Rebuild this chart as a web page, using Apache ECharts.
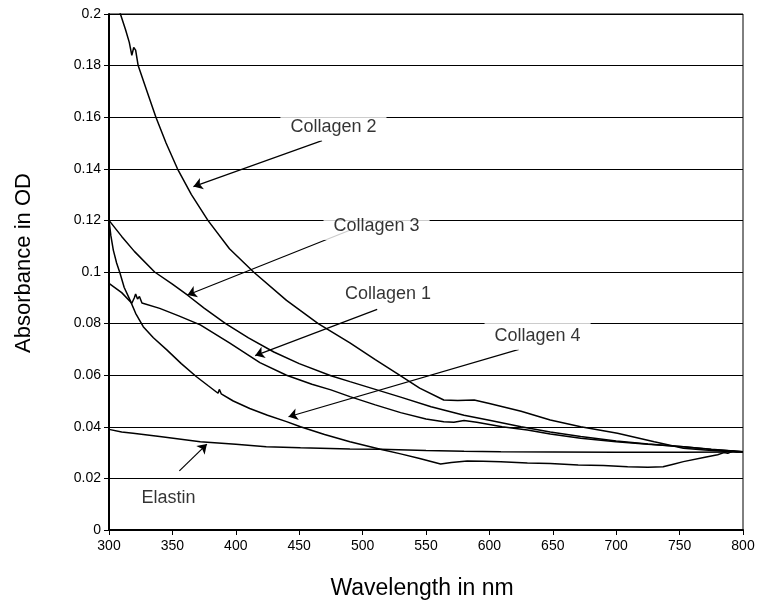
<!DOCTYPE html>
<html>
<head>
<meta charset="utf-8">
<script src="https://cdn.jsdelivr.net/npm/echarts@6/dist/echarts.min.js"></script>
<style>html,body{margin:0;padding:0;background:#fff;}#c{width:758px;height:600px;}</style>
</head>
<body>
<div id="c"></div>
<script>
// ---- Data (wavelength nm, absorbance OD) ----
const collagen2 = [[300,0.214],[305,0.206],[309,0.200],[313,0.194],[316,0.189],[318,0.184],[319.5,0.187],[321,0.186],[323,0.180],[330,0.170],[337,0.160],[345,0.150],[354,0.140],[365,0.130],[378,0.120],[395,0.109],[414,0.100],[440,0.089],[465,0.080],[490,0.0725],[510,0.066],[527,0.0607],[545,0.055],[564,0.0504],[575,0.0502],[588,0.0504],[600,0.049],[625,0.046],[648,0.0426],[672,0.0400],[701,0.0375],[730,0.0342],[753,0.0317],[770,0.0310],[785,0.0305],[800,0.0303]];
const collagen3 = [[300,0.120],[310,0.1138],[320,0.108],[336,0.100],[350,0.0953],[362,0.091],[375,0.0860],[392,0.080],[410,0.0745],[430,0.0690],[450,0.0645],[475,0.0598],[490,0.0575],[510,0.0545],[530,0.0515],[554,0.0478],[580,0.0445],[600,0.0425],[625,0.0400],[648,0.0380],[672,0.0362],[700,0.0345],[725,0.0333],[753,0.0323],[775,0.0312],[800,0.0303]];
const collagen1 = [[300,0.0956],[310,0.0920],[318,0.0879],[320,0.0900],[321,0.0915],[322.5,0.0895],[324,0.0905],[326,0.0880],[340,0.0859],[355,0.0830],[372,0.0795],[395,0.0725],[419,0.0649],[440,0.0600],[460,0.0565],[475,0.0543],[490,0.0517],[510,0.0485],[530,0.0455],[550,0.0430],[564,0.0420],[572,0.0418],[580,0.0424],[590,0.0418],[610,0.0400],[630,0.0388],[648,0.0372],[672,0.0356],[700,0.0342],[725,0.0332],[753,0.0323],[775,0.0313],[800,0.0303]];
const collagen4 = [[300,0.120],[301.5,0.114],[303.4,0.1085],[306,0.1035],[308.7,0.0995],[312,0.094],[316.6,0.0891],[321,0.084],[327,0.0788],[335,0.0745],[345.6,0.0698],[357,0.0645],[369,0.0594],[378,0.0560],[386,0.0530],[387,0.0545],[388.5,0.0528],[398,0.0500],[411,0.0471],[425,0.0445],[440,0.0420],[451,0.0400],[470,0.0370],[490,0.0342],[514,0.0313],[530,0.0295],[545,0.0277],[561.5,0.0256],[570,0.0262],[582.5,0.0267],[595,0.0266],[609,0.0265],[630,0.0260],[648,0.0258],[670,0.0252],[690,0.0250],[709,0.0245],[725,0.0243],[737,0.0245],[745,0.0255],[753,0.0265],[770,0.0282],[780,0.0292],[785,0.0300],[788,0.0297],[792,0.0306],[795,0.0302],[800,0.0303]];
const elastin = [[300,0.0390],[310,0.0380],[319,0.0375],[340,0.0362],[372,0.0342],[400,0.0332],[424,0.0323],[451,0.0319],[490,0.0314],[514,0.0313],[550,0.0308],[580,0.0305],[609,0.0303],[650,0.0302],[700,0.0301],[750,0.0301],[800,0.0302]];

// ---- Annotations ----
const labelNames = ['Collagen 2','Collagen 3','Collagen 1','Collagen 4','Elastin'];
const labelAt   = [[477,0.1563],[511,0.1178],[520,0.0915],[638,0.0752],[347,0.0124]];
const arrowFrom = [[468,0.1509],[490.4,0.1163],[511.5,0.0855],[623.3,0.0700],[355.5,0.0229]];
const arrowTo   = [[366.6,0.1331],[361.9,0.0911],[415.3,0.0676],[441.6,0.0439],[377.2,0.0333]];

const FONT = '"Liberation Sans", Arial, sans-serif';
const lineSeries = (name, data) => ({
  name, type: 'line', data, showSymbol: false, symbol: 'none', smooth: false,
  lineStyle: { color: '#000', width: 1.5 }, z: 3, clip: true
});

const chart = echarts.init(document.getElementById('c'), null, { renderer: 'canvas' });
chart.setOption({
  animation: false,
  backgroundColor: '#fff',
  grid: { left: 109, right: 15, top: 14, bottom: 70, show: true, borderColor: '#000', borderWidth: 1, outerBoundsMode: 'none', containLabel: false },
  xAxis: {
    type: 'value', min: 300, max: 800, interval: 50,
    name: 'Wavelength in nm', nameLocation: 'middle', nameGap: 47,
    nameTextStyle: { fontFamily: FONT, fontSize: 23, color: '#000', padding: [0, 8, 0, 0] },
    axisLine: { lineStyle: { color: '#000', width: 2 } },
    axisTick: { show: true, length: 5, lineStyle: { color: '#000', width: 1 } },
    axisLabel: { fontFamily: FONT, fontSize: 14, color: '#000', margin: 9 },
    splitLine: { show: false }
  },
  yAxis: {
    type: 'value', min: 0, max: 0.2, interval: 0.02,
    name: 'Absorbance in OD', nameLocation: 'middle', nameGap: 74,
    nameTextStyle: { fontFamily: FONT, fontSize: 22, color: '#000', padding: [0, 0, 0, 18] },
    axisLine: { show: true, lineStyle: { color: '#000', width: 2 } },
    axisTick: { show: true, length: 5, lineStyle: { color: '#000', width: 1 } },
    axisLabel: { fontFamily: FONT, fontSize: 14, color: '#000', margin: 8 },
    splitLine: { show: true, lineStyle: { color: '#000', width: 1 } }
  },
  series: [
    lineSeries('Collagen 2', collagen2),
    lineSeries('Collagen 3', collagen3),
    lineSeries('Collagen 1', collagen1),
    lineSeries('Collagen 4', collagen4),
    lineSeries('Elastin', elastin),
    {
      type: 'scatter', name: 'annotations', z: 5, silent: true,
      symbolSize: 0,
      data: labelNames.map((n, i) => ({ value: labelAt[i], name: n })),
      label: {
        show: true, position: 'inside', formatter: p => p.name,
        fontFamily: FONT, fontSize: 18, color: '#000',
        backgroundColor: '#fff', padding: [5, 10]
      },
      markLine: {
        silent: true, animation: false,
        symbol: ['none', 'arrow'], symbolSize: 9,
        label: { show: false },
        lineStyle: { color: '#000', width: 1.2, type: 'solid' },
        data: arrowFrom.map((f, i) => [{ coord: f }, { coord: arrowTo[i] }])
      }
    }
  ]
});
</script>
</body>
</html>
